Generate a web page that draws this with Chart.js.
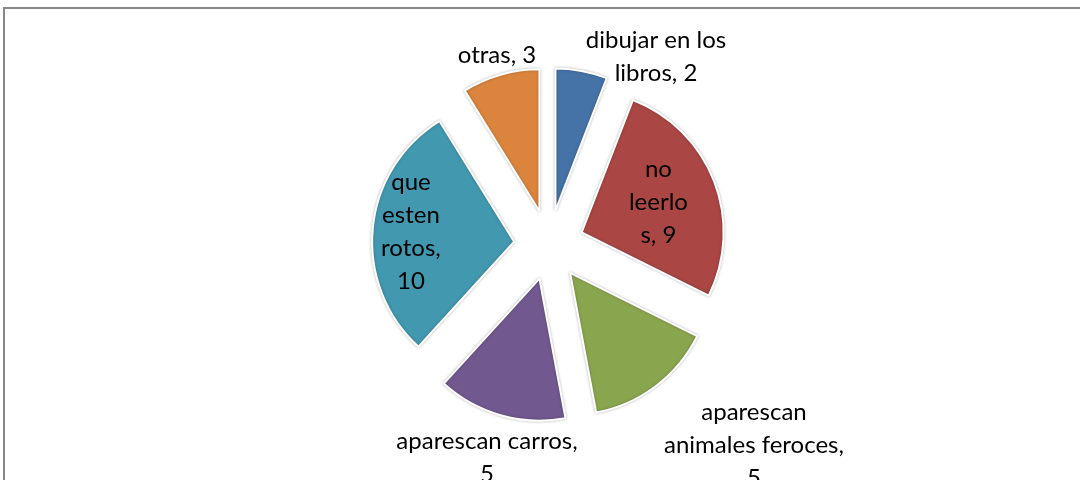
<!DOCTYPE html>
<html>
<head>
<meta charset="utf-8">
<script src="https://cdn.jsdelivr.net/npm/chart.js@4"></script>
<style>
  html, body { margin: 0; padding: 0; background: #fff; }
  #wrap { width: 1080px; height: 480px; position: relative; }
</style>
</head>
<body>
<div id="wrap"><canvas id="pie"></canvas></div>
<script>
// data
const labels = ['dibujar en los libros', 'no leerlos', 'aparescan animales feroces', 'aparescan carros', 'que esten rotos', 'otras'];
const values = [2, 9, 5, 5, 10, 3];
const colors = ['#4572A7', '#AA4643', '#89A54E', '#71588F', '#4198AF', '#DB843D'];
// label lines as they wrap in the picture
const labelLines = [
    ['dibujar en los', 'libros, 2'],
    ['no', 'leerlo', 's, 9'],
    ['aparescan', 'animales feroces,', '5'],
    ['aparescan carros,', '5'],
    ['que', 'esten', 'rotos,', '10'],
    ['otras, 3']
];

const EXPLODE = 35;

// draw slices pulled out from the centre
const explodePlugin = {
    id: 'explode',
    beforeDatasetDraw(chart, args) {
        const ctx = chart.ctx;
        args.meta.data.forEach(arc => {
            const mid = (arc.startAngle + arc.endAngle) / 2;
            ctx.save();
            ctx.shadowColor = 'rgba(0,0,0,0.25)';
            ctx.shadowBlur = 3;
            ctx.translate(Math.cos(mid) * EXPLODE, Math.sin(mid) * EXPLODE);
            arc.draw(ctx);
            ctx.restore();
        });
        return false;
    }
};

// frame + data labels
const labelPlugin = {
    id: 'sliceLabels',
    beforeDraw(chart) {
        const ctx = chart.ctx;
        ctx.save();
        ctx.strokeStyle = '#878787';
        ctx.lineWidth = 2;
        ctx.strokeRect(4, 8, 1200, 600);
        ctx.restore();
    },
    afterDatasetsDraw(chart) {
        const ctx = chart.ctx;
        const arcs = chart.getDatasetMeta(0).data;
        ctx.save();
        ctx.font = '24px Lato';
        ctx.fillStyle = '#000';
        ctx.textAlign = 'center';
        ctx.textBaseline = 'middle';
        const lh = 33;
        arcs.forEach((arc, i) => {
            const mid = (arc.startAngle + arc.endAngle) / 2;
            const lines = labelLines[i];
            const r = arc.outerRadius;
            let cx, cy;
            if (i === 1 || i === 4) {
                // inside the slice
                const d = EXPLODE + r * (i === 4 ? 0.73 : 0.58);
                cx = arc.x + Math.cos(mid) * d;
                cy = arc.y + Math.sin(mid) * d;
            } else {
                // outside, placed as in the picture
                if (i === 0) { cx = arc.x + 107; cy = arc.y - 188; }
                if (i === 5) { cx = arc.x - 52; cy = arc.y - 190; }
                if (i === 2) { cx = arc.x + 205; cy = arc.y + 200; }
                if (i === 3) { cx = arc.x - 62; cy = arc.y + 213; }
            }
            const top = cy - (lines.length - 1) * lh / 2;
            lines.forEach((t, k) => ctx.fillText(t, cx, top + k * lh));
        });
        ctx.restore();
    }
};

new Chart(document.getElementById('pie'), {
    type: 'pie',
    data: {
        labels: labels,
        datasets: [{
            data: values,
            backgroundColor: colors,
            borderColor: '#ffffff',
            borderWidth: 2
        }]
    },
    options: {
        responsive: true,
        maintainAspectRatio: false,
        animation: false,
        radius: 142,
        layout: {padding: {left: 18, top: 10}},
        plugins: {
            legend: {display: false},
            tooltip: {enabled: false}
        }
    },
    plugins: [explodePlugin, labelPlugin]
});
</script>
</body>
</html>
